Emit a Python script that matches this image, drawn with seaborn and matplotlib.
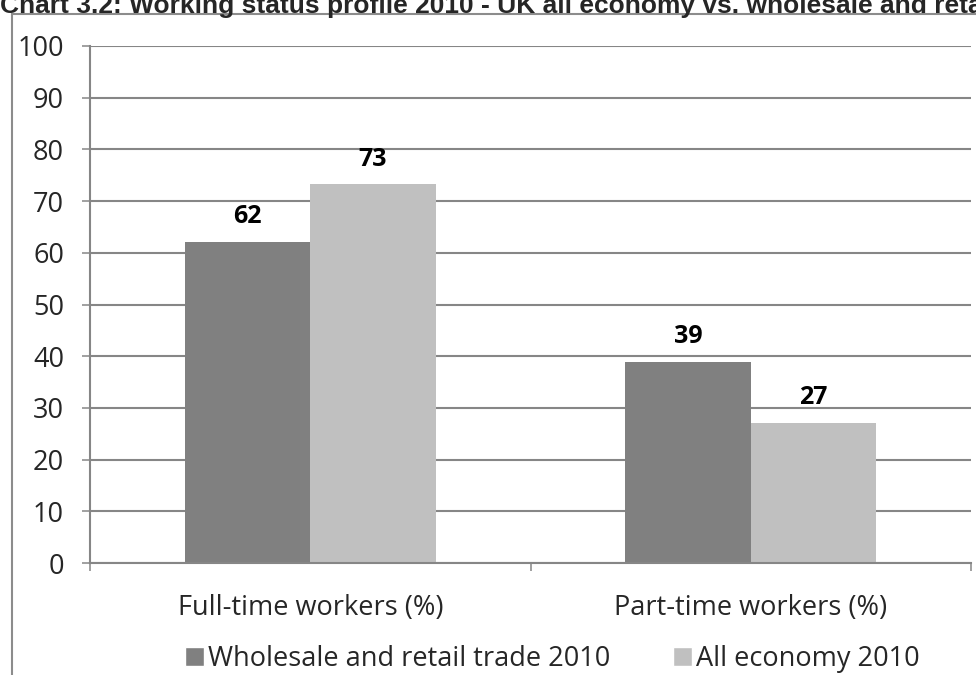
import matplotlib
matplotlib.use("Agg")
import matplotlib.pyplot as plt
import seaborn as sns
import pandas as pd
from matplotlib.patches import Rectangle, Patch

# data
categories = ["Full-time workers (%)", "Part-time workers (%)"]
series = ["Wholesale and retail trade 2010", "All economy 2010"]
wholesale = [62.1, 38.9]
all_economy = [73.3, 27.1]
wholesale_labels = ["62", "39"]
all_economy_labels = ["73", "27"]
yticks = list(range(0, 101, 10))

sns.set_theme(style="white")
plt.rcParams['font.family'] = ['Open Sans', 'DejaVu Sans']

df = pd.DataFrame({
    "category": categories * 2,
    "series": [series[0]] * 2 + [series[1]] * 2,
    "value": wholesale + all_economy,
})

fig = plt.figure(figsize=(9.76, 6.75), dpi=100)
ax = fig.add_axes([90 / 976, 1 - 563 / 675, (971 - 90) / 976, (563 - 46) / 675])

# outer chart frame
fig.add_artist(Rectangle((12 / 976, -0.1), 1.2, 1.1 - 14 / 675,
                         transform=fig.transFigure, fill=False,
                         edgecolor='#8c8c8c', linewidth=1.5))

sns.barplot(data=df, x="category", y="value", hue="series",
            palette=["#808080", "#c0c0c0"], saturation=1,
            width=0.57, gap=0, linewidth=0, ax=ax, legend=False)

for cont, labs in zip(ax.containers, [wholesale_labels, all_economy_labels]):
    ax.bar_label(cont, labels=labs, padding=9, fontsize=18,
                 fontweight='bold', color='black')

ax.set_ylim(0, 100)
ax.set_xlim(-0.5, 1.5)
ax.set_yticks(yticks)
ax.yaxis.grid(True, color='#868686', linewidth=1.5)
ax.set_axisbelow(True)
ax.set_xticks([-0.5, 0.5, 1.5])
ax.set_xticklabels([])
ax.set_xticks([0, 1], minor=True)
ax.set_xticklabels(categories, minor=True)
ax.tick_params(axis='x', which='major', direction='out', length=5.8,
               color='#868686', width=1.1, bottom=True)
ax.tick_params(axis='x', which='minor', length=0, pad=22, labelsize=19.5)
ax.tick_params(axis='y', direction='out', length=5.8, color='#868686',
               width=1.1, left=True, labelsize=19.5, pad=13)
for s in ['top', 'right']:
    ax.spines[s].set_visible(False)
for s in ['left', 'bottom']:
    ax.spines[s].set_color('#868686')
    ax.spines[s].set_linewidth(1.5)
ax.set_xlabel("")
ax.set_ylabel("")

handles = [Patch(facecolor="#808080"), Patch(facecolor="#c0c0c0")]
fig.legend(handles, series, loc='center left',
           bbox_to_anchor=(185 / 976, 1 - 659 / 675), ncol=2, frameon=False,
           fontsize=19.5, handlelength=0.7, handleheight=0.7,
           handletextpad=0.15, columnspacing=2.3, borderaxespad=0,
           borderpad=0)

fig.text(0, 1 - 13 / 675,
         "Chart 3.2: Working status profile 2010 - UK all economy vs. wholesale and retail trade",
         fontsize=19, fontweight='bold', family=['Liberation Sans', 'DejaVu Sans'],
         ha='left', va='baseline')

fig.savefig("out.png", dpi=100)
